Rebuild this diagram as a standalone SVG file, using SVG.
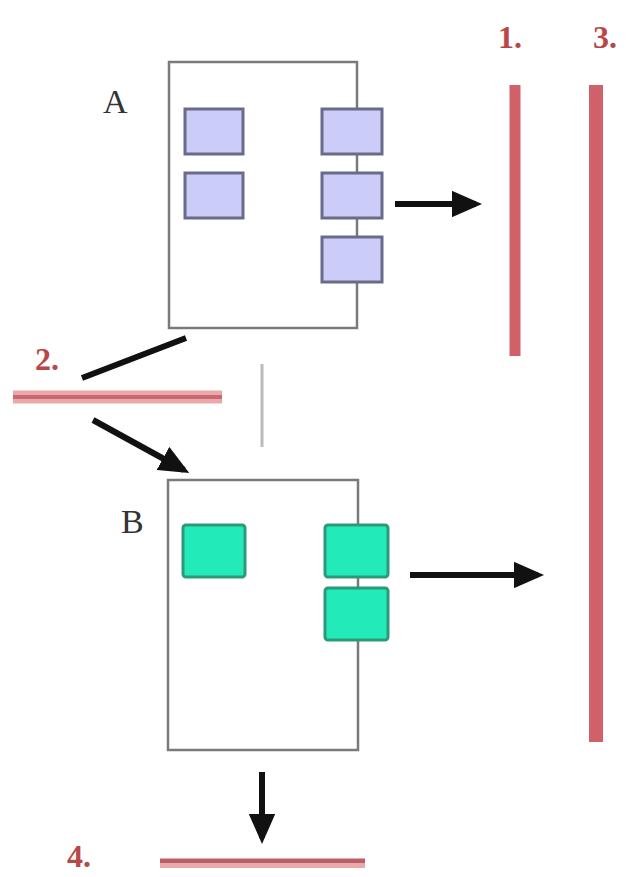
<svg xmlns="http://www.w3.org/2000/svg" width="630" height="877" viewBox="0 0 630 877">
<style>
.frame{fill:none;stroke:#7a7a7a;stroke-width:2.5}
.blue{fill:#ccccf8;stroke:#6a6a8a;stroke-width:3}
.green{fill:#22eab8;stroke:#2a9a78;stroke-width:3}
.lbl{font-family:"Liberation Serif",serif;font-size:34px;fill:#333}
.num{font-family:"Liberation Serif",serif;font-size:32px;font-weight:bold;fill:#b84848}
.red{stroke:#d0606a;stroke-linecap:butt}
.arrow{stroke:#111;stroke-width:6;fill:none}
</style>
<defs>
<marker id="ah" markerWidth="5" markerHeight="4.4" refX="4" refY="2.2" orient="auto" markerUnits="strokeWidth">
<path d="M0,0 L5,2.2 L0,4.4 Z" fill="#111"/>
</marker>
</defs>
<rect width="630" height="877" fill="#fff"/>
<g id="nodeA">
<rect class="frame" x="169" y="62" width="188" height="266"/>
<text class="lbl" x="103" y="113">A</text>
<rect class="blue" x="185" y="109" width="58" height="45"/>
<rect class="blue" x="185" y="173" width="58" height="45"/>
<rect class="blue" x="322" y="109" width="60" height="45"/>
<rect class="blue" x="322" y="173" width="60" height="45"/>
<rect class="blue" x="322" y="237" width="60" height="45"/>
</g>
<g id="nodeB">
<rect class="frame" x="168" y="480" width="190" height="270"/>
<text class="lbl" x="121" y="533">B</text>
<rect class="green" x="183" y="525" width="62" height="52" rx="3"/>
<rect class="green" x="325" y="525" width="63" height="52" rx="3"/>
<rect class="green" x="325" y="588" width="63" height="52" rx="3"/>
</g>
<g id="target1">
<line class="red" x1="515" y1="85" x2="515" y2="356" stroke-width="11"/>
<text class="num" x="498" y="48">1.</text>
</g>
<g id="target3">
<line class="red" x1="596" y1="85" x2="596" y2="742" stroke-width="14"/>
<text class="num" x="593" y="48">3.</text>
</g>
<g id="target2">
<line x1="13" y1="397" x2="222" y2="397" stroke="#eaa8a8" stroke-width="13"/>
<line x1="13" y1="397" x2="222" y2="397" stroke="#c86870" stroke-width="4"/>
<text class="num" x="35" y="370">2.</text>
</g>
<g id="target4">
<line x1="160" y1="863" x2="365" y2="863" stroke="#eaa8a8" stroke-width="10"/>
<line x1="160" y1="861" x2="365" y2="861" stroke="#b86068" stroke-width="4"/>
<text class="num" x="67" y="867">4.</text>
</g>
<g id="connectors">
<line class="arrow" x1="395" y1="204" x2="476" y2="204" marker-end="url(#ah)"/>
<line class="arrow" x1="410" y1="575" x2="538" y2="575" marker-end="url(#ah)"/>
<line class="arrow" x1="262" y1="772" x2="262" y2="838" marker-end="url(#ah)"/>
<line class="arrow" x1="82" y1="378" x2="186" y2="338"/>
<line class="arrow" x1="93" y1="420" x2="184" y2="470" marker-end="url(#ah)"/>
<line x1="262" y1="364" x2="262" y2="447" stroke="#bbbbbb" stroke-width="3"/>
</g>
</svg>
